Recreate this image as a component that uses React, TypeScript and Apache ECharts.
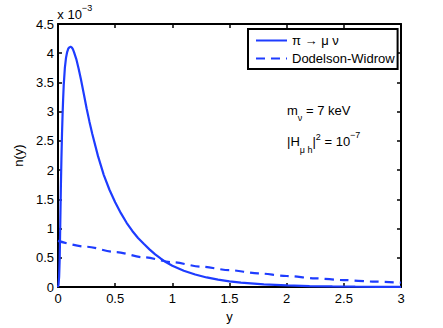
import React, { useEffect, useRef } from 'react';
import * as echarts from 'echarts';

// pi -> mu nu distribution (values in units of 1e-3)
const piX = [0, 0.005, 0.01, 0.015, 0.02, 0.025, 0.03, 0.035, 0.04, 0.045, 0.05, 0.06, 0.07, 0.08, 0.09, 0.1, 0.11, 0.12, 0.13, 0.14, 0.16, 0.18, 0.2, 0.225, 0.25, 0.275, 0.3, 0.35, 0.4, 0.45, 0.5, 0.55, 0.6, 0.65, 0.7, 0.75, 0.8, 0.85, 0.9, 0.95, 1.0, 1.1, 1.2, 1.3, 1.4, 1.5, 1.6, 1.8, 2.0, 2.2, 2.4, 2.6, 2.8, 3.0];
const piY = [0, 0.05, 0.18, 0.5, 1.1, 1.7, 2.2, 2.62, 2.95, 3.22, 3.45, 3.75, 3.92, 4.02, 4.08, 4.1, 4.11, 4.1, 4.07, 4.02, 3.9, 3.74, 3.56, 3.31, 3.06, 2.83, 2.62, 2.24, 1.92, 1.665, 1.45, 1.265, 1.1, 0.96, 0.84, 0.74, 0.645, 0.56, 0.485, 0.42, 0.365, 0.28, 0.215, 0.165, 0.127, 0.098, 0.076, 0.046, 0.028, 0.017, 0.011, 0.007, 0.0045, 0.003];

// Dodelson-Widrow distribution (values in units of 1e-3)
const dwX = [0, 0.25, 0.5, 0.75, 1.0, 1.25, 1.5, 1.75, 2.0, 2.25, 2.5, 2.75, 3.0];
const dwY = [0.79, 0.69, 0.6, 0.51, 0.425, 0.35, 0.29, 0.235, 0.19, 0.15, 0.12, 0.095, 0.075];

const seriesNames = ['\u03c0 \u2192 \u03bc \u03bd', 'Dodelson-Widrow'];

const FONT = '"Liberation Sans", Arial, Helvetica, sans-serif';
const BLUE = '#1e3cff';

type Seg = { t: string; size: number; base: number };

function measure(text: string, size: number): number {
  const ctx = document.createElement('canvas').getContext('2d');
  if (!ctx) return text.length * size * 0.55;
  ctx.font = `${size}px "Liberation Sans", Arial, sans-serif`;
  return ctx.measureText(text).width;
}

function run(x0: number, segs: Seg[]) {
  let x = x0;
  const out: any[] = [];
  for (const s of segs) {
    out.push({
      type: 'text',
      x,
      y: s.base - 0.3465 * s.size,
      style: {
        text: s.t,
        fontSize: s.size,
        fontFamily: FONT,
        fill: '#000',
        textAlign: 'left',
        textVerticalAlign: 'middle',
      },
    });
    x += measure(s.t, s.size);
  }
  return out;
}

export default function App() {
  const ref = useRef<HTMLDivElement>(null);

  useEffect(() => {
    document.body.style.margin = '0';
    if (!ref.current) return;
    const chart = echarts.init(ref.current, null, { renderer: 'svg' });

    const axisCommon = {
      type: 'value' as const,
      axisLine: { show: true, onZero: false, lineStyle: { color: '#000', width: 2 } },
      axisTick: { show: true, inside: true, length: 4, lineStyle: { color: '#000', width: 1.5 } },
      splitLine: { show: false },
    };
    const labelStyle = { color: '#000', fontSize: 13, fontFamily: FONT };

    const graphics = [
      ...run(57.3, [
        { t: 'x 10', size: 13, base: 19.5 },
        { t: '\u22123', size: 9, base: 11 },
      ]),
      ...run(287, [
        { t: 'm', size: 13, base: 115 },
        { t: '\u03bd', size: 9, base: 121 },
        { t: ' = 7 keV', size: 13, base: 115 },
      ]),
      ...run(287, [
        { t: '|H', size: 13, base: 146.5 },
        { t: '\u03bc h', size: 9, base: 153 },
        { t: '|', size: 13, base: 146.5 },
        { t: '2', size: 9, base: 140 },
        { t: ' = 10', size: 13, base: 146.5 },
        { t: '\u22127', size: 9, base: 138.5 },
      ]),
    ];

    chart.setOption({
      animation: false,
      backgroundColor: '#fff',
      grid: { left: 58, right: 42, top: 24, bottom: 37 },
      xAxis: [
        {
          ...axisCommon,
          position: 'bottom',
          min: 0,
          max: 3,
          interval: 0.5,
          name: 'y',
          nameLocation: 'middle',
          nameGap: 19,
          nameTextStyle: labelStyle,
          axisLabel: { ...labelStyle, margin: 5 },
        },
        {
          ...axisCommon,
          position: 'top',
          min: 0,
          max: 3,
          interval: 0.5,
          axisLabel: { show: false },
        },
      ],
      yAxis: [
        {
          ...axisCommon,
          position: 'left',
          min: 0,
          max: 4.5,
          interval: 0.5,
          name: 'n(y)',
          nameLocation: 'middle',
          nameGap: 28,
          nameRotate: 90,
          nameTextStyle: labelStyle,
          axisLabel: { ...labelStyle, margin: 4 },
        },
        {
          ...axisCommon,
          position: 'right',
          min: 0,
          max: 4.5,
          interval: 0.5,
          axisLabel: { show: false },
        },
      ],
      legend: {
        orient: 'vertical',
        left: 248,
        top: 29,
        padding: [5, 3, 4, 7],
        itemWidth: 31,
        itemHeight: 12,
        itemGap: 5,
        borderColor: '#000',
        borderWidth: 2,
        backgroundColor: '#fff',
        itemStyle: { opacity: 0 },
        textStyle: { color: '#000', fontSize: 13, fontFamily: FONT },
        data: seriesNames,
      },
      series: [
        {
          name: seriesNames[0],
          type: 'line',
          data: piX.map((x, i) => [x, piY[i]]),
          showSymbol: false,
          symbol: 'none',
          smooth: false,
          lineStyle: { color: BLUE, width: 2.2 },
          itemStyle: { color: BLUE },
        },
        {
          name: seriesNames[1],
          type: 'line',
          data: dwX.map((x, i) => [x, dwY[i]]),
          showSymbol: false,
          symbol: 'none',
          smooth: 0.3,
          smoothMonotone: 'x',
          lineStyle: { color: BLUE, width: 2.2, type: [9, 6] },
          itemStyle: { color: BLUE },
        },
      ],
      graphic: graphics,
    });

    return () => chart.dispose();
  }, []);

  return (
    <div
      ref={ref}
      style={{ position: 'fixed', left: 0, top: 0, width: 443, height: 328 }}
    />
  );
}
